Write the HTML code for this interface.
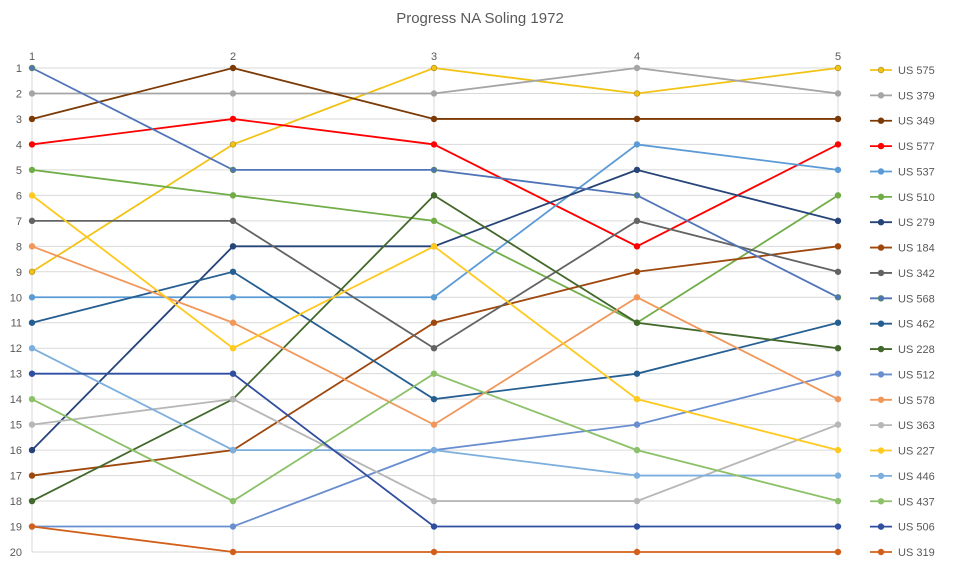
<!DOCTYPE html>
<html><head><meta charset="utf-8"><style>
body{margin:0;background:#fff;}
svg{display:block;font-family:"Liberation Sans",sans-serif;}
</style></head><body>
<svg id="c" width="960" height="581" xmlns="http://www.w3.org/2000/svg"></svg>
<script>
const s=document.getElementById('c');
const X=[32,233,434,637,838];
const Y=r=>68+(r-1)*(484/19);
let h='<rect width="960" height="581" fill="#fff"/>';
h+='<text x="480" y="23" text-anchor="middle" font-size="15" fill="#595959">Progress NA Soling 1972</text>';
for(let r=1;r<=20;r++){h+=`<line x1="32" x2="838" y1="${Y(r)}" y2="${Y(r)}" stroke="#d9d9d9" stroke-width="1"/>`;
h+=`<text x="22" y="${Y(r)+4}" text-anchor="end" font-size="11" fill="#595959">${r}</text>`;}
X.forEach((x,i)=>{h+=`<line x1="${x}" x2="${x}" y1="68" y2="552" stroke="#d9d9d9"/>`;
h+=`<text x="${x}" y="60" text-anchor="middle" font-size="11" fill="#595959">${i+1}</text>`;});
const D=[
["US 575","#f2c314","#b8952a",[9,4,1,2,1]],
["US 379","#a5a5a5","#a5a5a5",[2,2,2,1,2]],
["US 349","#7b3a06","#7b3a06",[3,1,3,3,3]],
["US 577","#ff0000","#ff0000",[4,3,4,8,4]],
["US 537","#5b9bd5","#5b9bd5",[10,10,10,4,5]],
["US 510","#70ad47","#70ad47",[5,6,7,11,6]],
["US 279","#264478","#264478",[16,8,8,5,7]],
["US 184","#9e480e","#9e480e",[17,16,11,9,8]],
["US 342","#636363","#636363",[7,7,12,7,9]],
["US 568","#4f74b8","#5a8a5a",[1,5,5,6,10]],
["US 462","#255e91","#255e91",[11,9,14,13,11]],
["US 228","#43682b","#43682b",[18,14,6,11,12]],
["US 512","#698ed0","#698ed0",[19,19,16,15,13]],
["US 578","#f1975a","#f1975a",[8,11,15,10,14]],
["US 363","#b7b7b7","#b7b7b7",[15,14,18,18,15]],
["US 227","#ffc91f","#ffc91f",[6,12,8,14,16]],
["US 446","#7cafdd","#7cafdd",[12,16,16,17,17]],
["US 437","#8cc168","#8cc168",[14,18,13,16,18]],
["US 506","#2f4ea0","#2f4ea0",[13,13,19,19,19]],
["US 319","#d2601a","#d2601a",[19,20,20,20,20]]];
D.forEach((d,k)=>{
 const pts=d[3].map((r,i)=>X[i]+','+Y(r)).join(' ');
 h+=`<polyline points="${pts}" fill="none" stroke="${d[1]}" stroke-width="1.8"/>`;
 d[3].forEach((r,i)=>{h+=`<circle cx="${X[i]}" cy="${Y(r)}" r="2.8" fill="${d[1]}" stroke="${d[2]}" stroke-width="0.8"/>`;});
 const ly=70+k*(482/19);
 h+=`<line x1="870" x2="892" y1="${ly}" y2="${ly}" stroke="${d[1]}" stroke-width="1.8"/><circle cx="881" cy="${ly}" r="2.8" fill="${d[1]}" stroke="${d[2]}" stroke-width="0.8"/>`;
 h+=`<text x="898" y="${ly+4}" font-size="11" fill="#595959">${d[0]}</text>`;
});
s.innerHTML=h;
</script>
</body></html>
